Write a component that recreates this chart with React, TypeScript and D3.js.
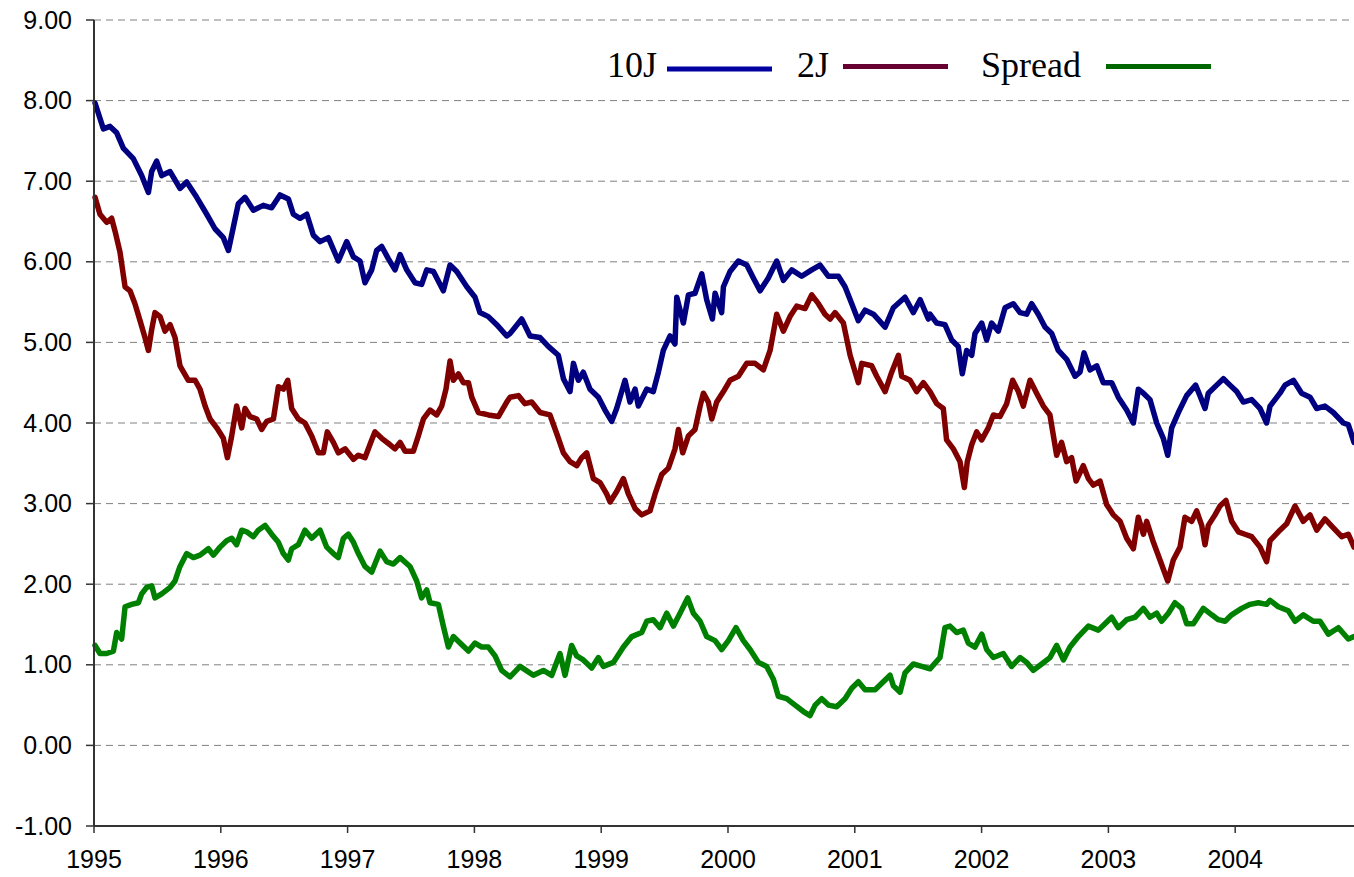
import React from "react";
import * as d3 from "d3";

// ---- Data (decimal year, value) ----
const tenYear: [number, number][] = [
  [1995.008,7.97],[1995.074,7.65],[1995.126,7.68],[1995.179,7.60],[1995.231,7.41],[1995.310,7.28],[1995.376,7.07],[1995.429,6.86],[1995.455,7.12],[1995.494,7.25],[1995.534,7.07],[1995.600,7.12],[1995.678,6.91],[1995.731,6.99],[1995.810,6.80],[1995.889,6.59],[1995.954,6.41],[1996.020,6.30],[1996.060,6.14],[1996.099,6.43],[1996.138,6.72],[1996.191,6.80],[1996.257,6.64],[1996.335,6.70],[1996.401,6.67],[1996.467,6.83],[1996.533,6.78],[1996.572,6.59],[1996.625,6.54],[1996.678,6.59],[1996.730,6.33],[1996.783,6.25],[1996.848,6.30],[1996.927,6.01],[1996.993,6.25],[1997.046,6.06],[1997.098,6.01],[1997.137,5.74],[1997.190,5.90],[1997.229,6.14],[1997.269,6.19],[1997.321,6.04],[1997.374,5.90],[1997.414,6.09],[1997.466,5.90],[1997.532,5.74],[1997.584,5.72],[1997.624,5.90],[1997.677,5.88],[1997.755,5.64],[1997.808,5.96],[1997.861,5.88],[1997.940,5.69],[1998.005,5.56],[1998.044,5.37],[1998.110,5.32],[1998.176,5.22],[1998.255,5.08],
  [1998.281,5.11],[1998.373,5.29],[1998.439,5.08],[1998.518,5.06],[1998.583,4.95],[1998.662,4.84],[1998.702,4.55],[1998.754,4.39],[1998.781,4.74],[1998.820,4.53],[1998.859,4.63],[1998.912,4.42],[1998.978,4.32],[1999.030,4.16],[1999.083,4.02],[1999.122,4.18],[1999.188,4.53],[1999.227,4.26],[1999.267,4.42],[1999.293,4.21],[1999.359,4.42],[1999.411,4.39],[1999.451,4.63],[1999.490,4.90],[1999.543,5.08],[1999.582,4.98],[1999.596,5.56],[1999.648,5.24],[1999.688,5.59],[1999.740,5.61],[1999.793,5.85],[1999.832,5.53],[1999.877,5.29],[1999.898,5.61],[1999.950,5.37],[1999.964,5.69],[2000.016,5.88],[2000.082,6.01],[2000.148,5.96],[2000.200,5.80],[2000.253,5.64],[2000.318,5.80],[2000.384,6.01],[2000.437,5.77],[2000.503,5.90],[2000.581,5.82],[2000.660,5.90],[2000.726,5.96],[2000.792,5.82],[2000.871,5.82],[2000.923,5.69],[2000.976,5.48],[2001.028,5.27],[2001.081,5.40],[2001.147,5.35],[2001.239,5.19],[2001.304,5.43],[2001.396,5.56],[2001.462,5.37],[2001.515,5.53],[2001.580,5.29],
  [2001.593,5.35],[2001.646,5.24],[2001.711,5.22],[2001.764,5.03],[2001.816,4.95],[2001.848,4.61],[2001.882,4.90],[2001.922,4.84],[2001.948,5.11],[2002.001,5.24],[2002.040,5.03],[2002.079,5.24],[2002.132,5.14],[2002.185,5.43],[2002.250,5.48],[2002.303,5.37],[2002.355,5.35],[2002.395,5.48],[2002.447,5.35],[2002.500,5.19],[2002.553,5.11],[2002.605,4.90],[2002.671,4.79],[2002.737,4.58],[2002.776,4.63],[2002.808,4.87],[2002.855,4.66],[2002.908,4.71],[2002.960,4.50],[2003.026,4.50],[2003.078,4.32],[2003.144,4.16],[2003.197,4.00],[2003.236,4.42],[2003.276,4.37],[2003.328,4.29],[2003.381,4.00],[2003.433,3.81],[2003.468,3.60],[2003.499,3.94],[2003.552,4.13],[2003.617,4.34],[2003.688,4.47],[2003.722,4.34],[2003.762,4.18],[2003.788,4.37],[2003.854,4.47],[2003.907,4.55],[2003.959,4.47],[2004.012,4.39],[2004.064,4.26],[2004.130,4.29],[2004.196,4.18],[2004.248,4.00],[2004.275,4.21],[2004.353,4.37],[2004.393,4.47],[2004.459,4.53],[2004.524,4.37],[2004.590,4.32],[2004.643,4.18],[2004.708,4.21],[2004.774,4.13],[2004.853,4.00],[2004.892,3.98],[2004.937,3.76],
];

const twoYear: [number, number][] = [
  [1995.008,6.80],[1995.047,6.59],[1995.100,6.49],[1995.139,6.54],[1995.166,6.38],[1995.205,6.12],[1995.245,5.69],[1995.284,5.64],[1995.323,5.48],[1995.363,5.27],[1995.402,5.06],[1995.429,4.90],[1995.455,5.16],[1995.481,5.37],[1995.521,5.32],[1995.560,5.14],[1995.600,5.22],[1995.639,5.06],[1995.678,4.71],[1995.744,4.53],[1995.797,4.53],[1995.836,4.42],[1995.876,4.21],[1995.915,4.05],[1995.968,3.94],[1996.020,3.81],[1996.052,3.57],[1996.086,3.84],[1996.125,4.21],[1996.165,3.94],[1996.191,4.18],[1996.230,4.08],[1996.283,4.05],[1996.322,3.92],[1996.362,4.02],[1996.415,4.05],[1996.454,4.45],[1996.493,4.42],[1996.528,4.53],[1996.559,4.18],[1996.612,4.05],[1996.664,4.00],[1996.717,3.84],[1996.769,3.63],[1996.809,3.63],[1996.840,3.89],[1996.888,3.76],[1996.927,3.63],[1996.980,3.68],[1997.046,3.55],[1997.085,3.60],[1997.137,3.57],[1997.190,3.79],[1997.216,3.89],[1997.269,3.81],[1997.335,3.73],[1997.374,3.68],[1997.414,3.76],[1997.453,3.65],[1997.519,3.65],[1997.558,3.84],[1997.598,4.05],[1997.650,4.16],[1997.703,4.10],[1997.742,4.21],[1997.776,4.42],[1997.808,4.77],[1997.834,4.53],[1997.874,4.61],[1997.913,4.50],[1997.953,4.50],[1997.979,4.32],[1998.031,4.13],[1998.110,4.10],[1998.189,4.08],[1998.255,4.26],
  [1998.281,4.32],[1998.347,4.34],[1998.399,4.24],[1998.452,4.26],[1998.518,4.13],[1998.596,4.10],[1998.649,3.87],[1998.702,3.63],[1998.754,3.52],[1998.807,3.47],[1998.846,3.57],[1998.886,3.63],[1998.938,3.31],[1998.991,3.26],[1999.043,3.12],[1999.070,3.02],[1999.122,3.15],[1999.175,3.31],[1999.214,3.12],[1999.267,2.94],[1999.319,2.86],[1999.385,2.91],[1999.425,3.12],[1999.477,3.36],[1999.530,3.44],[1999.582,3.68],[1999.609,3.92],[1999.643,3.63],[1999.688,3.84],[1999.740,3.92],[1999.780,4.21],[1999.806,4.37],[1999.845,4.26],[1999.872,4.05],[1999.911,4.26],[1999.964,4.39],[2000.016,4.53],[2000.082,4.58],[2000.148,4.74],[2000.213,4.74],[2000.279,4.66],[2000.332,4.90],[2000.384,5.35],[2000.437,5.14],[2000.489,5.32],[2000.542,5.45],[2000.608,5.42],[2000.660,5.59],[2000.713,5.48],[2000.765,5.35],[2000.805,5.29],[2000.844,5.37],[2000.910,5.24],[2000.963,4.84],[2001.028,4.50],[2001.055,4.74],[2001.133,4.71],[2001.173,4.58],[2001.239,4.39],[2001.291,4.63],[2001.344,4.84],[2001.370,4.58],[2001.436,4.53],[2001.488,4.39],[2001.541,4.50],
  [2001.593,4.39],[2001.646,4.24],[2001.698,4.18],[2001.724,3.79],[2001.777,3.68],[2001.830,3.52],[2001.864,3.20],[2001.887,3.52],[2001.922,3.73],[2001.961,3.89],[2002.001,3.79],[2002.053,3.94],[2002.093,4.10],[2002.145,4.08],[2002.198,4.24],[2002.245,4.53],[2002.290,4.39],[2002.329,4.21],[2002.382,4.53],[2002.434,4.37],[2002.487,4.21],[2002.539,4.10],[2002.592,3.60],[2002.631,3.76],[2002.671,3.52],[2002.710,3.57],[2002.745,3.28],[2002.802,3.47],[2002.842,3.31],[2002.881,3.23],[2002.934,3.28],[2002.986,2.99],[2003.039,2.86],[2003.092,2.78],[2003.144,2.57],[2003.197,2.44],[2003.236,2.83],[2003.276,2.62],[2003.302,2.78],[2003.355,2.52],[2003.407,2.30],[2003.468,2.04],[2003.512,2.30],[2003.565,2.46],[2003.604,2.83],[2003.657,2.78],[2003.696,2.91],[2003.736,2.73],[2003.762,2.49],[2003.788,2.73],[2003.841,2.86],[2003.880,2.97],[2003.927,3.04],[2003.972,2.78],[2004.025,2.65],[2004.077,2.62],[2004.130,2.59],[2004.196,2.46],[2004.248,2.28],[2004.275,2.54],[2004.353,2.67],[2004.406,2.75],[2004.472,2.97],[2004.537,2.78],[2004.590,2.86],[2004.643,2.67],[2004.708,2.81],[2004.774,2.70],[2004.840,2.59],[2004.892,2.62],[2004.937,2.46],
];

const spread: [number, number][] = [
  [1995.008,1.24],[1995.047,1.14],[1995.100,1.14],[1995.153,1.17],[1995.179,1.40],[1995.218,1.32],[1995.245,1.72],[1995.297,1.75],[1995.350,1.77],[1995.376,1.88],[1995.415,1.96],[1995.455,1.98],[1995.481,1.83],[1995.534,1.88],[1995.600,1.96],[1995.639,2.04],[1995.678,2.22],[1995.731,2.38],[1995.784,2.33],[1995.836,2.36],[1995.902,2.44],[1995.941,2.36],[1995.994,2.46],[1996.046,2.54],[1996.086,2.57],[1996.125,2.49],[1996.165,2.67],[1996.204,2.65],[1996.257,2.59],[1996.296,2.67],[1996.349,2.73],[1996.401,2.62],[1996.454,2.52],[1996.493,2.38],[1996.533,2.30],[1996.559,2.44],[1996.612,2.49],[1996.664,2.67],[1996.717,2.57],[1996.783,2.67],[1996.835,2.46],[1996.888,2.38],[1996.927,2.33],[1996.967,2.57],[1997.006,2.62],[1997.046,2.52],[1997.085,2.38],[1997.137,2.22],[1997.190,2.15],[1997.256,2.41],[1997.308,2.28],[1997.361,2.25],[1997.414,2.33],[1997.492,2.22],[1997.545,2.04],[1997.584,1.83],[1997.624,1.93],[1997.650,1.77],[1997.716,1.75],[1997.755,1.48],[1997.795,1.22],[1997.834,1.35],[1997.887,1.27],[1997.953,1.17],[1998.005,1.27],[1998.058,1.22],[1998.110,1.22],[1998.163,1.11],[1998.215,0.93],
  [1998.281,0.85],[1998.360,0.98],[1998.465,0.87],[1998.544,0.93],[1998.610,0.87],[1998.675,1.14],[1998.715,0.87],[1998.767,1.24],[1998.807,1.11],[1998.859,1.06],[1998.925,0.96],[1998.978,1.09],[1999.017,0.98],[1999.096,1.03],[1999.175,1.22],[1999.241,1.35],[1999.319,1.40],[1999.359,1.54],[1999.411,1.56],[1999.464,1.46],[1999.517,1.64],[1999.569,1.48],[1999.622,1.64],[1999.682,1.83],[1999.727,1.64],[1999.780,1.54],[1999.832,1.35],[1999.898,1.30],[1999.950,1.19],[2000.003,1.30],[2000.063,1.46],[2000.121,1.30],[2000.174,1.19],[2000.240,1.03],[2000.305,0.98],[2000.358,0.82],[2000.397,0.61],[2000.463,0.58],[2000.529,0.50],[2000.595,0.42],[2000.647,0.37],[2000.687,0.50],[2000.739,0.58],[2000.792,0.50],[2000.857,0.48],[2000.923,0.58],[2000.976,0.71],[2001.028,0.79],[2001.081,0.69],[2001.160,0.69],[2001.225,0.79],[2001.278,0.87],[2001.304,0.74],[2001.357,0.66],[2001.396,0.90],[2001.462,1.01],[2001.528,0.98],
  [2001.593,0.95],[2001.672,1.09],[2001.711,1.46],[2001.751,1.48],[2001.803,1.40],[2001.856,1.43],[2001.895,1.27],[2001.948,1.22],[2002.001,1.38],[2002.040,1.19],[2002.093,1.09],[2002.171,1.14],[2002.237,0.98],[2002.303,1.09],[2002.355,1.03],[2002.408,0.93],[2002.474,1.01],[2002.539,1.09],[2002.592,1.24],[2002.645,1.06],[2002.697,1.22],[2002.763,1.35],[2002.842,1.48],[2002.921,1.43],[2002.973,1.51],[2003.026,1.59],[2003.078,1.46],[2003.144,1.56],[2003.210,1.59],[2003.276,1.70],[2003.328,1.59],[2003.381,1.64],[2003.420,1.54],[2003.473,1.64],[2003.525,1.77],[2003.578,1.70],[2003.617,1.51],[2003.670,1.51],[2003.749,1.70],[2003.815,1.62],[2003.867,1.56],[2003.920,1.54],[2003.972,1.62],[2004.051,1.70],[2004.117,1.75],[2004.183,1.77],[2004.248,1.75],[2004.275,1.80],[2004.340,1.72],[2004.419,1.67],[2004.472,1.54],[2004.537,1.62],[2004.616,1.54],[2004.669,1.54],[2004.735,1.38],[2004.814,1.46],[2004.892,1.32],[2004.937,1.35],
];

const yearTicks = [1995, 1996, 1997, 1998, 1999, 2000, 2001, 2002, 2003, 2004];
const valueTicks = [-1, 0, 1, 2, 3, 4, 5, 6, 7, 8, 9];
const xDomain: [number, number] = [1995, 2004.937];
const yDomain: [number, number] = [-1, 9];

const seriesNames = ["10J", "2J", "Spread"];
const lineColors = ["#000080", "#800000", "#008000"];
const legendColors = ["#0000A0", "#660033", "#006600"];

const W = 1354;
const H = 877;
const M = { left: 94, right: 0, top: 20, bottom: 51 };

const fmt = d3.formatLocale({ decimal: ".", thousands: ",", grouping: [3], currency: ["", ""], minus: "-" }).format(".2f");

export default function App() {
  const x = d3.scaleLinear().domain(xDomain).range([M.left, W - M.right]);
  const y = d3.scaleLinear().domain(yDomain).range([H - M.bottom, M.top]);
  const line = d3
    .line<[number, number]>()
    .x((d) => x(d[0]))
    .y((d) => y(d[1]));
  const data = [tenYear, twoYear, spread];
  const axisColor = "#333";
  const sans = "'Liberation Sans', Arial, sans-serif";
  const serif = "'Liberation Serif', 'Times New Roman', serif";

  const legendItems = [
    { textX: 607, lineX1: 667, lineX2: 772, lineY: 69 },
    { textX: 797, lineX1: 843, lineX2: 948, lineY: 66.5 },
    { textX: 981, lineX1: 1106, lineX2: 1211, lineY: 66.5 },
  ];

  return (
    <svg
      width={W}
      height={H}
      style={{ position: "absolute", left: 0, top: 0, display: "block", background: "#fff" }}
    >
      {valueTicks
        .filter((v) => v !== yDomain[0])
        .map((v) => (
          <line
            key={"g" + v}
            x1={M.left}
            x2={W - M.right}
            y1={y(v)}
            y2={y(v)}
            stroke="#808080"
            strokeWidth={1}
            strokeDasharray="7,5"
          />
        ))}

      {data.map((d, i) => (
        <path
          key={"s" + i}
          d={line(d) || ""}
          fill="none"
          stroke={lineColors[i]}
          strokeWidth={5.5}
          strokeLinejoin="round"
          strokeLinecap="round"
        />
      ))}

      <line x1={M.left} x2={M.left} y1={M.top} y2={H - M.bottom} stroke={axisColor} strokeWidth={2} />
      <line x1={M.left} x2={W - M.right} y1={H - M.bottom} y2={H - M.bottom} stroke={axisColor} strokeWidth={2} />

      {valueTicks.map((v) => (
        <g key={"yt" + v}>
          <line x1={M.left - 8} x2={M.left} y1={y(v)} y2={y(v)} stroke={axisColor} strokeWidth={1.5} />
          <text x={72} y={y(v) + 8.5} textAnchor="end" fontFamily={sans} fontSize={25} fill="#000">
            {fmt(v)}
          </text>
        </g>
      ))}

      {yearTicks.map((t) => (
        <g key={"xt" + t}>
          <line x1={x(t)} x2={x(t)} y1={H - M.bottom} y2={H - M.bottom + 7} stroke={axisColor} strokeWidth={1.5} />
          <text x={x(t)} y={868} textAnchor="middle" fontFamily={sans} fontSize={25} fill="#000">
            {t}
          </text>
        </g>
      ))}

      {seriesNames.map((name, i) => (
        <g key={"l" + i}>
          <text x={legendItems[i].textX} y={77} fontFamily={serif} fontSize={36} fill="#000">
            {name}
          </text>
          <line
            x1={legendItems[i].lineX1}
            x2={legendItems[i].lineX2}
            y1={legendItems[i].lineY}
            y2={legendItems[i].lineY}
            stroke={legendColors[i]}
            strokeWidth={5}
          />
        </g>
      ))}
    </svg>
  );
}
